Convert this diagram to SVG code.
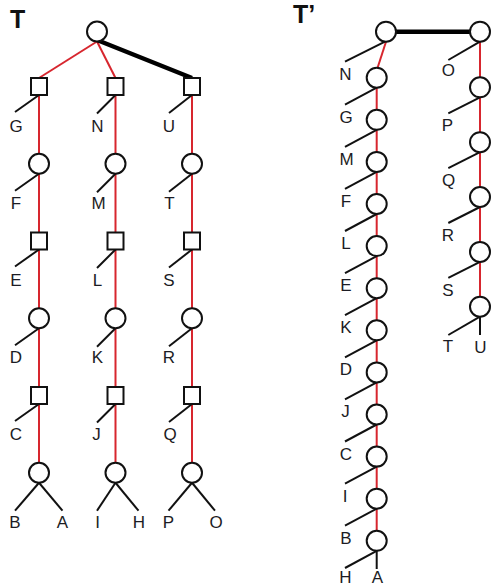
<svg xmlns="http://www.w3.org/2000/svg" width="491" height="587" viewBox="0 0 491 587">
  <style>
    .bg { fill: #ffffff; }
    .title { font-family: "Liberation Sans", Arial, sans-serif; font-size: 25px; font-weight: bold; fill: #111111; }
    .lbl { font-family: "Liberation Sans", Arial, sans-serif; font-size: 17px; fill: #1c1c24; text-anchor: middle; }
    .red { stroke: #d7262e; stroke-width: 2; fill: none; }
    .blk { stroke: #111111; stroke-width: 2; fill: none; }
    .heavy { stroke: #000000; stroke-width: 4.5; fill: none; }
    .node { fill: #ffffff; stroke: #111111; stroke-width: 2; }
  </style>
  <rect class="bg" x="0" y="0" width="491" height="587"/>

  <text class="title" x="10" y="28">T</text>
  <text class="title" x="293" y="23">T’</text>

  <!-- Tree T: connectors -->
  <g id="t-edges">
    <line class="red" x1="97" y1="41.5" x2="39" y2="78"/>
    <line class="red" x1="97" y1="41.5" x2="115.5" y2="78"/>
    <line class="heavy" x1="97" y1="40" x2="192" y2="78"/>
    <line class="red" x1="39" y1="95" x2="39" y2="463"/>
    <line class="red" x1="115.5" y1="95" x2="115.5" y2="463"/>
    <line class="red" x1="192" y1="95" x2="192" y2="463"/>
    <!-- leaf edges, left column -->
    <line class="blk" x1="39" y1="95" x2="15" y2="112"/>
    <line class="blk" x1="39" y1="173.75" x2="15" y2="190.75"/>
    <line class="blk" x1="39" y1="249.5" x2="15" y2="266.5"/>
    <line class="blk" x1="39" y1="328.25" x2="15" y2="345.25"/>
    <line class="blk" x1="39" y1="404" x2="15" y2="421"/>
    <line class="blk" x1="39" y1="482.75" x2="15" y2="510.7"/>
    <line class="blk" x1="39" y1="482.75" x2="62.5" y2="510.7"/>
    <!-- leaf edges, middle column -->
    <line class="blk" x1="115.5" y1="95" x2="97" y2="113.5"/>
    <line class="blk" x1="115.5" y1="173.75" x2="97" y2="192.25"/>
    <line class="blk" x1="115.5" y1="249.5" x2="97" y2="268"/>
    <line class="blk" x1="115.5" y1="328.25" x2="97" y2="346.75"/>
    <line class="blk" x1="115.5" y1="404" x2="97" y2="422.5"/>
    <line class="blk" x1="115.5" y1="482.75" x2="97" y2="510.7"/>
    <line class="blk" x1="115.5" y1="482.75" x2="138.5" y2="510.7"/>
    <!-- leaf edges, right column -->
    <line class="blk" x1="192" y1="95" x2="169" y2="113"/>
    <line class="blk" x1="192" y1="173.75" x2="169" y2="191.75"/>
    <line class="blk" x1="192" y1="249.5" x2="169" y2="267.5"/>
    <line class="blk" x1="192" y1="328.25" x2="169" y2="346.25"/>
    <line class="blk" x1="192" y1="404" x2="169" y2="422"/>
    <line class="blk" x1="192" y1="482.75" x2="168.5" y2="510.7"/>
    <line class="blk" x1="192" y1="482.75" x2="215" y2="510.7"/>
  </g>

  <!-- Tree T: nodes -->
  <g id="t-root"><circle class="node" cx="97" cy="31.5" r="10"/></g>

  <g id="t-a1"><rect class="node" x="31" y="78" width="16" height="17"/></g>
  <g id="t-a2"><circle class="node" cx="39" cy="163.75" r="10"/></g>
  <g id="t-a3"><rect class="node" x="31" y="232.5" width="16" height="17"/></g>
  <g id="t-a4"><circle class="node" cx="39" cy="318.25" r="10"/></g>
  <g id="t-a5"><rect class="node" x="31" y="387" width="16" height="17"/></g>
  <g id="t-a6"><circle class="node" cx="39" cy="472.75" r="10"/></g>

  <g id="t-b1"><rect class="node" x="107.5" y="78" width="16" height="17"/></g>
  <g id="t-b2"><circle class="node" cx="115.5" cy="163.75" r="10"/></g>
  <g id="t-b3"><rect class="node" x="107.5" y="232.5" width="16" height="17"/></g>
  <g id="t-b4"><circle class="node" cx="115.5" cy="318.25" r="10"/></g>
  <g id="t-b5"><rect class="node" x="107.5" y="387" width="16" height="17"/></g>
  <g id="t-b6"><circle class="node" cx="115.5" cy="472.75" r="10"/></g>

  <g id="t-c1"><rect class="node" x="184" y="78" width="16" height="17"/></g>
  <g id="t-c2"><circle class="node" cx="192" cy="163.75" r="10"/></g>
  <g id="t-c3"><rect class="node" x="184" y="232.5" width="16" height="17"/></g>
  <g id="t-c4"><circle class="node" cx="192" cy="318.25" r="10"/></g>
  <g id="t-c5"><rect class="node" x="184" y="387" width="16" height="17"/></g>
  <g id="t-c6"><circle class="node" cx="192" cy="472.75" r="10"/></g>

  <!-- Tree T: leaves -->
  <g id="t-leaves">
    <text class="lbl" x="16" y="131.5">G</text>
    <text class="lbl" x="16" y="208.5">F</text>
    <text class="lbl" x="16" y="285.5">E</text>
    <text class="lbl" x="16" y="362.5">D</text>
    <text class="lbl" x="16" y="440">C</text>
    <text class="lbl" x="15" y="528">B</text>
    <text class="lbl" x="62.5" y="528">A</text>

    <text class="lbl" x="97.5" y="131.5">N</text>
    <text class="lbl" x="98.5" y="208.5">M</text>
    <text class="lbl" x="97.5" y="285.5">L</text>
    <text class="lbl" x="97.5" y="362.5">K</text>
    <text class="lbl" x="96.5" y="440">J</text>
    <text class="lbl" x="97.5" y="528">I</text>
    <text class="lbl" x="139" y="528">H</text>

    <text class="lbl" x="169" y="131.5">U</text>
    <text class="lbl" x="169.5" y="208.5">T</text>
    <text class="lbl" x="169" y="285.5">S</text>
    <text class="lbl" x="169" y="362.5">R</text>
    <text class="lbl" x="170" y="440">Q</text>
    <text class="lbl" x="168.5" y="528">P</text>
    <text class="lbl" x="216" y="528">O</text>
  </g>

  <!-- Tree T': connectors -->
  <g id="tp-edges">
    <line class="heavy" x1="396" y1="31.7" x2="470" y2="31.7"/>
    <line class="red" x1="386" y1="41.7" x2="377.5" y2="68"/>
    <line class="red" x1="376.7" y1="87.7" x2="376.7" y2="531"/>
    <line class="red" x1="480" y1="41.7" x2="480" y2="297"/>
    <!-- leaf edges, left chain -->
    <line class="blk" x1="385" y1="41.7" x2="345" y2="61.7"/>
    <line class="blk" x1="376.7" y1="87.7" x2="345" y2="104.7"/>
    <line class="blk" x1="376.7" y1="129.8" x2="345" y2="146.8"/>
    <line class="blk" x1="376.7" y1="171.9" x2="345" y2="188.9"/>
    <line class="blk" x1="376.7" y1="214" x2="345" y2="231"/>
    <line class="blk" x1="376.7" y1="256.1" x2="345" y2="273.1"/>
    <line class="blk" x1="376.7" y1="298.2" x2="345" y2="315.2"/>
    <line class="blk" x1="376.7" y1="340.3" x2="345" y2="357.3"/>
    <line class="blk" x1="376.7" y1="382.4" x2="345" y2="399.4"/>
    <line class="blk" x1="376.7" y1="424.5" x2="345" y2="441.5"/>
    <line class="blk" x1="376.7" y1="466.6" x2="345" y2="483.6"/>
    <line class="blk" x1="376.7" y1="508.7" x2="345" y2="525.7"/>
    <line class="blk" x1="376.7" y1="550.8" x2="345" y2="568"/>
    <line class="blk" x1="376.7" y1="550.8" x2="376.7" y2="569"/>
    <!-- leaf edges, right chain -->
    <line class="blk" x1="480" y1="41.7" x2="448.3" y2="60"/>
    <line class="blk" x1="480" y1="97.3" x2="448.3" y2="113.3"/>
    <line class="blk" x1="480" y1="152.2" x2="448.3" y2="168.2"/>
    <line class="blk" x1="480" y1="207" x2="448.3" y2="223"/>
    <line class="blk" x1="480" y1="261.9" x2="448.3" y2="277.9"/>
    <line class="blk" x1="480" y1="316.7" x2="448.3" y2="335"/>
    <line class="blk" x1="480" y1="316.7" x2="480" y2="335"/>
  </g>

  <!-- Tree T': nodes -->
  <g id="tp-root1"><circle class="node" cx="386" cy="31.7" r="10"/></g>
  <g id="tp-root2"><circle class="node" cx="480" cy="31.7" r="10"/></g>

  <g id="tp-l1"><circle class="node" cx="376.7" cy="77.7" r="10"/></g>
  <g id="tp-l2"><circle class="node" cx="376.7" cy="119.8" r="10"/></g>
  <g id="tp-l3"><circle class="node" cx="376.7" cy="161.9" r="10"/></g>
  <g id="tp-l4"><circle class="node" cx="376.7" cy="204" r="10"/></g>
  <g id="tp-l5"><circle class="node" cx="376.7" cy="246.1" r="10"/></g>
  <g id="tp-l6"><circle class="node" cx="376.7" cy="288.2" r="10"/></g>
  <g id="tp-l7"><circle class="node" cx="376.7" cy="330.3" r="10"/></g>
  <g id="tp-l8"><circle class="node" cx="376.7" cy="372.4" r="10"/></g>
  <g id="tp-l9"><circle class="node" cx="376.7" cy="414.5" r="10"/></g>
  <g id="tp-l10"><circle class="node" cx="376.7" cy="456.6" r="10"/></g>
  <g id="tp-l11"><circle class="node" cx="376.7" cy="498.7" r="10"/></g>
  <g id="tp-l12"><circle class="node" cx="376.7" cy="540.8" r="10"/></g>

  <g id="tp-r1"><circle class="node" cx="480" cy="87.3" r="10"/></g>
  <g id="tp-r2"><circle class="node" cx="480" cy="142.2" r="10"/></g>
  <g id="tp-r3"><circle class="node" cx="480" cy="197" r="10"/></g>
  <g id="tp-r4"><circle class="node" cx="480" cy="251.9" r="10"/></g>
  <g id="tp-r5"><circle class="node" cx="480" cy="306.7" r="10"/></g>

  <!-- Tree T': leaves -->
  <g id="tp-leaves">
    <text class="lbl" x="345.5" y="80">N</text>
    <text class="lbl" x="346" y="122.7">G</text>
    <text class="lbl" x="346.5" y="164.8">M</text>
    <text class="lbl" x="346" y="206.9">F</text>
    <text class="lbl" x="346" y="249">L</text>
    <text class="lbl" x="346" y="291.1">E</text>
    <text class="lbl" x="346" y="333.2">K</text>
    <text class="lbl" x="346" y="375.3">D</text>
    <text class="lbl" x="345.5" y="417.4">J</text>
    <text class="lbl" x="346" y="459.5">C</text>
    <text class="lbl" x="345" y="501.6">I</text>
    <text class="lbl" x="346" y="543.7">B</text>
    <text class="lbl" x="345.5" y="583">H</text>
    <text class="lbl" x="377.5" y="583">A</text>

    <text class="lbl" x="448.3" y="76">O</text>
    <text class="lbl" x="447.5" y="130.5">P</text>
    <text class="lbl" x="448.5" y="185.5">Q</text>
    <text class="lbl" x="448" y="240.5">R</text>
    <text class="lbl" x="448" y="296">S</text>
    <text class="lbl" x="448" y="351.5">T</text>
    <text class="lbl" x="480.5" y="352.5">U</text>
  </g>
</svg>
